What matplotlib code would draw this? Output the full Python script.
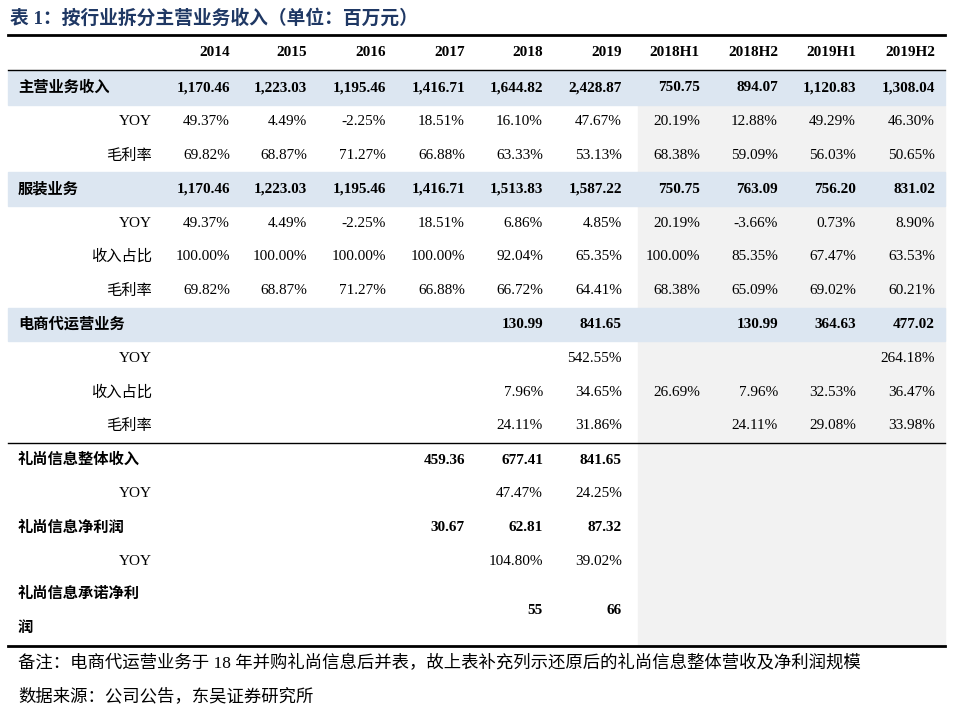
import matplotlib
matplotlib.use('Agg')
import matplotlib.pyplot as plt
from matplotlib.patches import Rectangle

plt.rcParams['font.family'] = ['Liberation Serif', 'Noto Sans CJK SC', 'DejaVu Sans']

title = "表 1：按行业拆分主营业务收入（单位：百万元）"
columns = ["2014", "2015", "2016", "2017", "2018", "2019",
           "2018H1", "2018H2", "2019H1", "2019H2"]

# (label, bold/section row, values)
rows = [
    ("主营业务收入", True, ["1,170.46", "1,223.03", "1,195.46", "1,416.71", "1,644.82", "2,428.87", "750.75", "894.07", "1,120.83", "1,308.04"]),
    ("YOY", False, ["49.37%", "4.49%", "-2.25%", "18.51%", "16.10%", "47.67%", "20.19%", "12.88%", "49.29%", "46.30%"]),
    ("毛利率", False, ["69.82%", "68.87%", "71.27%", "66.88%", "63.33%", "53.13%", "68.38%", "59.09%", "56.03%", "50.65%"]),
    ("服装业务", True, ["1,170.46", "1,223.03", "1,195.46", "1,416.71", "1,513.83", "1,587.22", "750.75", "763.09", "756.20", "831.02"]),
    ("YOY", False, ["49.37%", "4.49%", "-2.25%", "18.51%", "6.86%", "4.85%", "20.19%", "-3.66%", "0.73%", "8.90%"]),
    ("收入占比", False, ["100.00%", "100.00%", "100.00%", "100.00%", "92.04%", "65.35%", "100.00%", "85.35%", "67.47%", "63.53%"]),
    ("毛利率", False, ["69.82%", "68.87%", "71.27%", "66.88%", "66.72%", "64.41%", "68.38%", "65.09%", "69.02%", "60.21%"]),
    ("电商代运营业务", True, ["", "", "", "", "130.99", "841.65", "", "130.99", "364.63", "477.02"]),
    ("YOY", False, ["", "", "", "", "", "542.55%", "", "", "", "264.18%"]),
    ("收入占比", False, ["", "", "", "", "7.96%", "34.65%", "26.69%", "7.96%", "32.53%", "36.47%"]),
    ("毛利率", False, ["", "", "", "", "24.11%", "31.86%", "", "24.11%", "29.08%", "33.98%"]),
]
extra_rows = [
    ("礼尚信息整体收入", True, ["", "", "", "459.36", "677.41", "841.65"]),
    ("YOY", False, ["", "", "", "", "47.47%", "24.25%"]),
    ("礼尚信息净利润", True, ["", "", "", "30.67", "62.81", "87.32"]),
    ("YOY", False, ["", "", "", "", "104.80%", "39.02%"]),
]
promise_label = ["礼尚信息承诺净利", "润"]
promise_vals = ["", "", "", "", "55", "66"]

notes = ["备注：电商代运营业务于 18 年并购礼尚信息后并表，故上表补充列示还原后的礼尚信息整体营收及净利润规模",
         "数据来源：公司公告，东吴证券研究所"]

fig = plt.figure(figsize=(9.6, 7.15), dpi=100)
ax = fig.add_axes([0, 0, 1, 1])
ax.set_xlim(0, 960)
ax.set_ylim(715, 0)
ax.axis('off')

col_right = [230, 307, 386, 465, 543, 622, 700, 778, 856, 935]
x0, x1 = 8, 945
row_h = 33.8
blue = '#dce6f1'
grey = '#f2f2f2'
fs = 11

ax.text(x0 + 2, 18, title, fontsize=13.5, fontweight='bold', color='#1f3864', va='center')
ax.plot([x0, x1], [35, 35], color='black', lw=2)
for x, c in zip(col_right, columns):
    ax.text(x, 53, c, fontsize=fs, fontweight='bold', ha='right', va='center')
ax.plot([x0, x1], [70, 70], color='black', lw=1)

# grey background for half-year columns
ax.add_patch(Rectangle((638, 105), x1 - 638, 645 - 105, color=grey, zorder=0))

y = 71
for label, bold, vals in rows:
    yc = y + row_h / 2
    if bold:
        ax.add_patch(Rectangle((x0, y), x1 - x0, row_h, color=blue, zorder=0.5))
        ax.text(18, yc, label, fontsize=fs, fontweight='bold', va='center')
    else:
        ax.text(152, yc, label, fontsize=fs, ha='right', va='center')
    for x, v in zip(col_right, vals):
        ax.text(x, yc, v, fontsize=fs, fontweight='bold' if bold else 'normal',
                ha='right', va='center')
    y += row_h

ax.plot([x0, x1], [443, 443], color='black', lw=1)
y = 443
for label, bold, vals in extra_rows:
    yc = y + 17
    if bold:
        ax.text(18, yc, label, fontsize=fs, fontweight='bold', va='center')
    else:
        ax.text(152, yc, label, fontsize=fs, ha='right', va='center')
    for x, v in zip(col_right, vals):
        ax.text(x, yc, v, fontsize=fs, fontweight='bold' if bold else 'normal',
                ha='right', va='center')
    y += 33.8

ax.text(18, 594, promise_label[0], fontsize=fs, fontweight='bold', va='center')
ax.text(18, 628, promise_label[1], fontsize=fs, fontweight='bold', va='center')
for x, v in zip(col_right, promise_vals):
    ax.text(x, 611, v, fontsize=fs, fontweight='bold', ha='right', va='center')
ax.plot([x0, x1], [646, 646], color='black', lw=2)

ax.text(18, 664, notes[0], fontsize=12.5, va='center')
ax.text(18, 697, notes[1], fontsize=12.5, va='center')

fig.savefig('out.png', dpi=100)
